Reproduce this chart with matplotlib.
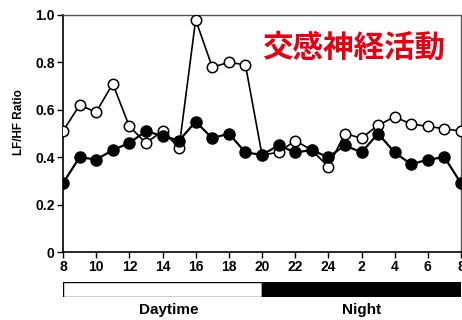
import matplotlib
matplotlib.use("Agg")
import matplotlib.pyplot as plt

# hours after 8:00, 25 points (8 -> 8 next morning)
hours = list(range(25))
tick_pos = list(range(0, 25, 2))
tick_labels = ["8", "10", "12", "14", "16", "18", "20", "22", "24", "2", "4", "6", "8"]

open_vals = [0.51, 0.62, 0.59, 0.71, 0.53, 0.46, 0.51, 0.44, 0.98, 0.78, 0.80, 0.79,
             0.41, 0.42, 0.47, 0.43, 0.36, 0.50, 0.48, 0.535, 0.57, 0.54, 0.53, 0.52, 0.51]
filled_vals = [0.29, 0.40, 0.39, 0.43, 0.46, 0.51, 0.49, 0.47, 0.55, 0.48, 0.50, 0.42,
               0.41, 0.45, 0.42, 0.43, 0.40, 0.45, 0.42, 0.50, 0.42, 0.37, 0.39, 0.40, 0.29]

yticks = [0, 0.2, 0.4, 0.6, 0.8, 1.0]
ytick_labels = ["0", "0.2", "0.4", "0.6", "0.8", "1.0"]

plt.rcParams['font.family'] = ['Liberation Sans', 'DejaVu Sans']
plt.rcParams['font.weight'] = 'bold'

fig = plt.figure(figsize=(4.62, 3.2), dpi=100)
ax = fig.add_axes([63/462, 1-252/320, 398/462, 237/320])

ax.plot(hours, open_vals, '-o', color='black', lw=1.2, ms=7.5,
        mfc='white', mec='black', mew=1.1, zorder=3)
ax.plot(hours, filled_vals, '-o', color='black', lw=1.6, ms=8,
        mfc='black', mec='black', zorder=4)

ax.set_xlim(0, 24)
ax.set_ylim(0, 1.0)
ax.set_xticks(tick_pos)
ax.set_xticklabels(tick_labels, fontsize=10, fontweight='bold')
ax.set_yticks(yticks)
ax.set_yticklabels(ytick_labels, fontsize=10, fontweight='bold')
ax.tick_params(direction='out', length=4, width=1, pad=2)
ax.set_ylabel('LF/HF Ratio', fontsize=8.5, fontweight='bold', labelpad=6)
ax.yaxis.set_label_coords(-0.095, 0.55)

for s in ['left', 'bottom']:
    ax.spines[s].set_linewidth(1.2)
for s in ['top', 'right']:
    ax.spines[s].set_color('#555555')
    ax.spines[s].set_linewidth(1.0)

fig.text(354/462, 1-48/320, '交感神経活動', color='#e60012', fontsize=22,
         fontweight='bold', ha='center', va='center',
         family=['Noto Sans CJK JP', 'DejaVu Sans'])

# day / night bar
bx = fig.add_axes([63/462, 1-297/320, 398/462, 15/320])
bx.barh(0, 12, left=0, height=1, color='white', edgecolor='black', lw=1.0)
bx.barh(0, 12, left=12, height=1, color='black', edgecolor='black', lw=1.0)
bx.set_xlim(0, 24)
bx.set_ylim(-0.5, 0.5)
bx.axis('off')
bx.text(6.4, -0.87, 'Daytime', transform=bx.get_xaxis_transform(),
        ha='center', va='center', fontsize=11, fontweight='bold')
bx.text(18, -0.87, 'Night', transform=bx.get_xaxis_transform(),
        ha='center', va='center', fontsize=11, fontweight='bold')

fig.savefig('out.png', dpi=100)
